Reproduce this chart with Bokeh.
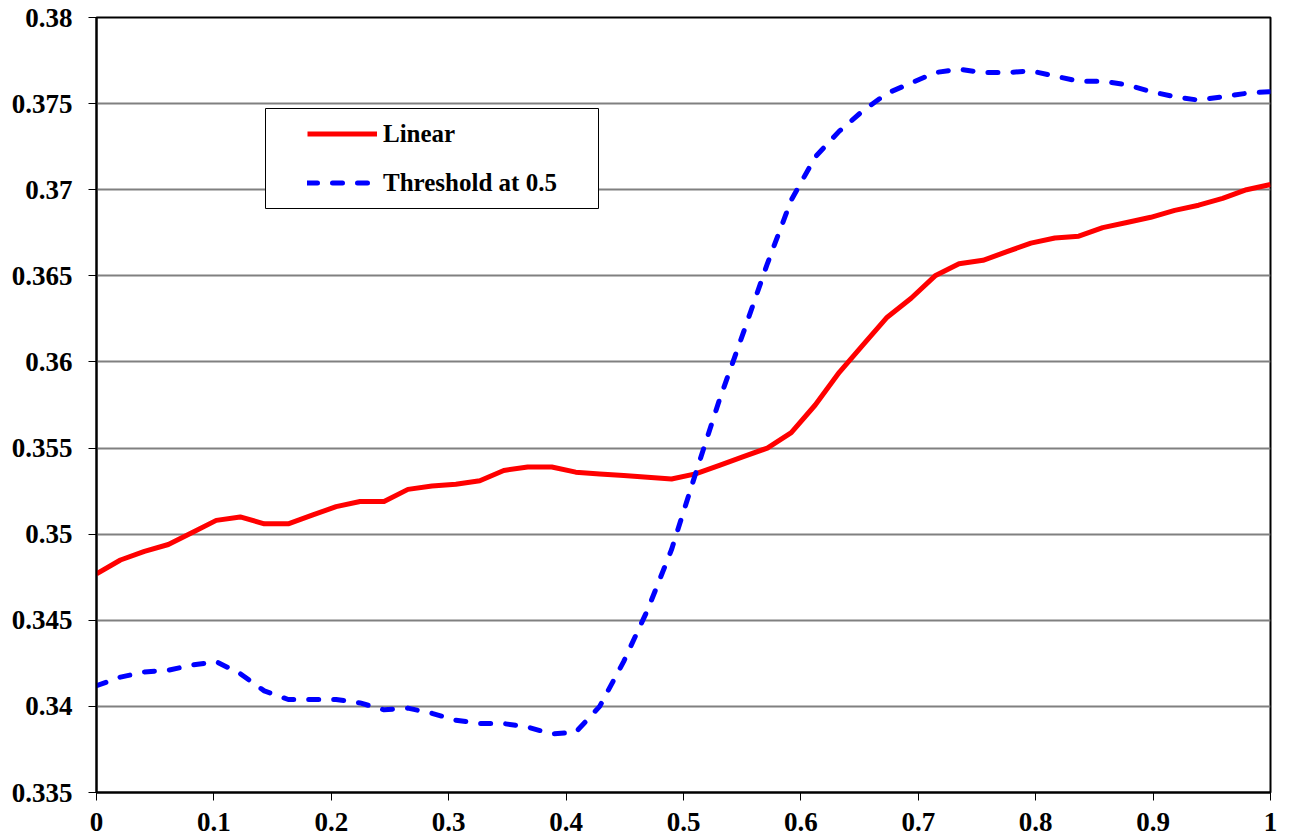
from bokeh.plotting import figure
from bokeh.models import Legend, LegendItem, FixedTicker, BoxAnnotation
from bokeh.embed import file_html
from bokeh.resources import INLINE

# ---- data ----
x_vals = [0.0, 0.0204, 0.0408, 0.0612, 0.0816, 0.1020, 0.1224, 0.1429, 0.1633, 0.1837,
          0.2041, 0.2245, 0.2449, 0.2653, 0.2857, 0.3061, 0.3265, 0.3469, 0.3673, 0.3878,
          0.4082, 0.4286, 0.4490, 0.4694, 0.4898, 0.5102, 0.5306, 0.5510, 0.5714, 0.5918,
          0.6122, 0.6327, 0.6531, 0.6735, 0.6939, 0.7143, 0.7347, 0.7551, 0.7755, 0.7959,
          0.8163, 0.8367, 0.8571, 0.8776, 0.8980, 0.9184, 0.9388, 0.9592, 0.9796, 1.0]

linear = [0.3477, 0.3485, 0.3490, 0.3494, 0.3501, 0.3508, 0.3510, 0.3506, 0.3506, 0.3511,
          0.3516, 0.3519, 0.3519, 0.3526, 0.3528, 0.3529, 0.3531, 0.3537, 0.3539, 0.3539,
          0.3536, 0.3535, 0.3534, 0.3533, 0.3532, 0.3535, 0.3540, 0.3545, 0.3550, 0.3559,
          0.3575, 0.3594, 0.3610, 0.3626, 0.3637, 0.3650, 0.3657, 0.3659, 0.3664, 0.3669,
          0.3672, 0.3673, 0.3678, 0.3681, 0.3684, 0.3688, 0.3691, 0.3695, 0.3700, 0.3703]

threshold = [0.3412, 0.3417, 0.3420, 0.3421, 0.3424, 0.3426, 0.3419, 0.3409, 0.3404, 0.3404,
             0.3404, 0.3402, 0.3398, 0.3399, 0.3396, 0.3392, 0.3390, 0.3390, 0.3388, 0.3384,
             0.3385, 0.3400, 0.3426, 0.3456, 0.3491, 0.3535, 0.3578, 0.3617, 0.3657, 0.3694,
             0.3719, 0.3734, 0.3746, 0.3756, 0.3762, 0.3768, 0.3770, 0.3768, 0.3768, 0.3769,
             0.3766, 0.3763, 0.3763, 0.3761, 0.3757, 0.3754, 0.3752, 0.3754, 0.3756, 0.3757]

x_ticks = [0.0, 0.1, 0.2, 0.3, 0.4, 0.5, 0.6, 0.7, 0.8, 0.9, 1.0]
x_tick_labels = ["0", "0.1", "0.2", "0.3", "0.4", "0.5", "0.6", "0.7", "0.8", "0.9", "1"]
y_ticks = [0.335, 0.34, 0.345, 0.35, 0.355, 0.36, 0.365, 0.37, 0.375, 0.38]
y_tick_labels = ["0.335", "0.34", "0.345", "0.35", "0.355", "0.36", "0.365", "0.37", "0.375", "0.38"]

series_names = ["Linear", "Threshold at 0.5"]

FONT = "Liberation Serif"

p = figure(width=1292, height=840, x_range=(0, 1), y_range=(0.335, 0.38),
           output_backend="svg", toolbar_location=None,
           min_border_left=96, min_border_right=22, min_border_top=17, min_border_bottom=48)
p.background_fill_color = "white"
p.border_fill_color = "white"
p.outline_line_color = "black"
p.outline_line_width = 2

p.xgrid.visible = False
p.ygrid.ticker = FixedTicker(ticks=y_ticks)
p.ygrid.grid_line_color = "#808080"
p.ygrid.grid_line_width = 2

p.xaxis.ticker = FixedTicker(ticks=x_ticks)
p.xaxis.major_label_overrides = {t: l for t, l in zip(x_ticks, x_tick_labels)}
p.yaxis.ticker = FixedTicker(ticks=y_ticks)
p.yaxis.major_label_overrides = {t: l for t, l in zip(y_ticks, y_tick_labels)}

for ax in (p.xaxis, p.yaxis):
    ax.axis_line_color = "black"
    ax.axis_line_width = 2
    ax.major_tick_line_color = "black"
    ax.major_tick_line_width = 1
    ax.major_tick_out = 8
    ax.major_tick_in = 0
    ax.minor_tick_line_color = None
    ax.major_label_text_font = FONT
    ax.major_label_text_font_style = "bold"
    ax.major_label_text_font_size = "27px"
    ax.major_label_text_color = "black"
p.xaxis.major_label_standoff = 12
p.yaxis.major_label_standoff = 16

r1 = p.line(x_vals, linear, line_color="red", line_width=5, line_join="round")
r2 = p.line(x_vals, threshold, line_color="blue", line_width=5,
            line_dash="10 15", line_cap="round", line_join="round")

box = BoxAnnotation(left=169, right=502, bottom=584, top=684,
                    left_units="screen", right_units="screen",
                    top_units="screen", bottom_units="screen",
                    fill_color="white", fill_alpha=1.0,
                    line_color="black", line_width=1, line_alpha=1.0)
p.add_layout(box)

legend = Legend(items=[LegendItem(label=series_names[0], renderers=[r1]),
                       LegendItem(label=series_names[1], renderers=[r2])],
                location=(199, 583), padding=12, spacing=20,
                glyph_width=70, glyph_height=29, label_height=29, label_standoff=6,
                border_line_alpha=0, background_fill_alpha=0,
                label_text_font=FONT, label_text_font_style="bold",
                label_text_font_size="25px", label_text_color="black")
p.add_layout(legend, "center")

open("out.html", "w").write(file_html(p, INLINE))
